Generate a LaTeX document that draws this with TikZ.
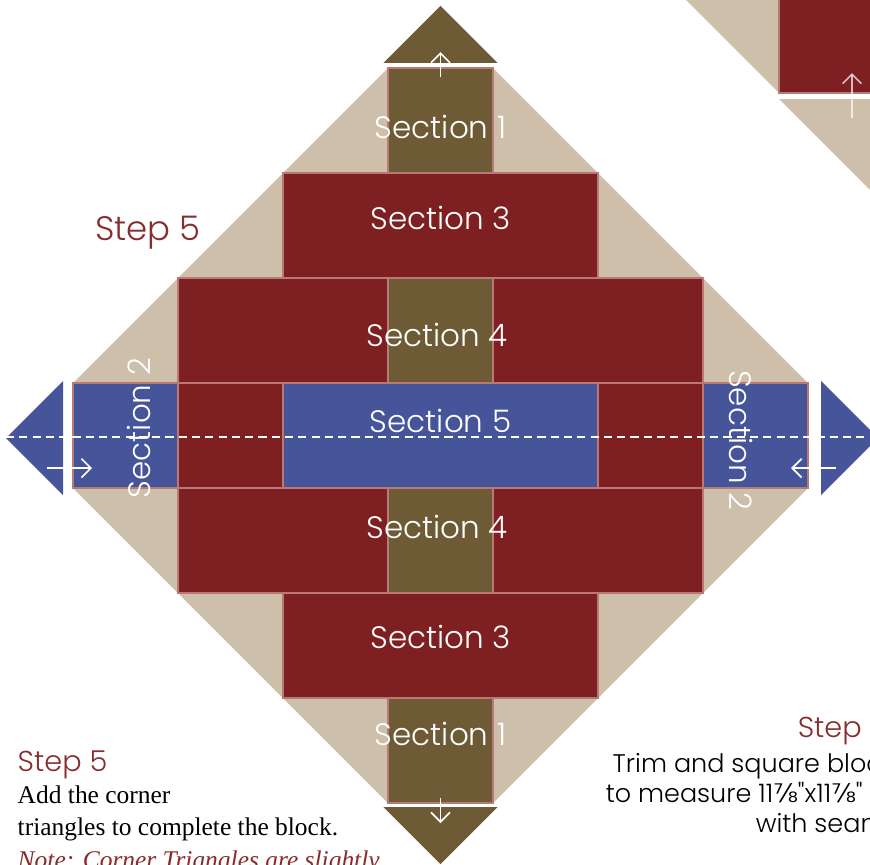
\documentclass[tikz,border=0pt]{standalone}
\usepackage{fontspec}
\usepackage{xcolor}
\usepackage{tikz}
\usetikzlibrary{arrows.meta, positioning}
\IfFontExistsTF{Poppins Light}{\newfontfamily\gothicfont{Poppins Light}}{\newfontfamily\gothicfont{Poppins}}
\newfontfamily\glyphfont{DejaVu Sans}
\newfontfamily\bookfont{Liberation Serif}
\definecolor{quiltolive}{HTML}{6E5B36}
\definecolor{quiltred}{HTML}{7E2022}
\definecolor{quiltblue}{HTML}{46549A}
\definecolor{quilttan}{HTML}{CDBFAA}
\definecolor{seamrose}{HTML}{B97A76}
\definecolor{steptitle}{HTML}{862D2D}
\definecolor{noteink}{HTML}{8A2B2B}
\tikzset{
  patch/.style={draw=seamrose, line width=0.4pt},
  seclabel/.style={white, inner sep=0pt, font=\fontsize{8.4}{8.4}\selectfont\gothicfont},
  pressarrow/.style={white, line width=0.45pt, -{Straight Barb[length=0.9mm, width=1.8mm]}},
  steplabel/.style={steptitle, inner sep=0pt, font=\fontsize{9.2}{9.2}\selectfont\gothicfont},
  bodyline/.style={black, inner sep=0pt, anchor=base west, font=\fontsize{6.9}{8.7}\selectfont\bookfont},
  trimline/.style={black, inner sep=0pt, anchor=base west, font=\fontsize{6.9}{8.1}\selectfont\gothicfont},
}

\begin{document}
\begin{tikzpicture}
  \useasboundingbox (-4.195,-4.081) rectangle (4.090,4.148);
  \clip (-4.195,-4.081) rectangle (4.090,4.148);

  % Next block peeking in at the top right
  \fill[quilttan] (2.186,4.3) -- (3.224,4.3) -- (3.224,3.262) -- cycle;
  \filldraw[quiltred, patch] (3.224,3.262) rectangle (4.3,4.3);
  \fill[quilttan] (3.224,3.205) -- (4.3,3.205) -- (4.3,2.129) -- cycle;
  \coordinate (nexttail) at (3.919,3.024);
  \coordinate (nexthead) at (3.919,3.452);
  \draw[pressarrow, opacity=0.7] (nexttail) -- (nexthead);

  % Corner triangles behind the sections
  \fill[quilttan] (-3.5,0.5) -- (-0.5,3.5) -- (0.5,3.5) -- (3.5,0.5) -- (3.5,-0.5) -- (0.5,-3.5) -- (-0.5,-3.5) -- (-3.5,-0.5) -- cycle;

  % Section 1 and 3 (top)
  \filldraw[quiltolive, patch] (-0.5,2.5) rectangle (0.5,3.5);
  \filldraw[quiltred, patch] (-1.5,1.5) rectangle (1.5,2.5);

  % Section 4 (top)
  \filldraw[quiltred, patch] (-2.5,0.5) rectangle (-0.5,1.5);
  \filldraw[quiltolive, patch] (-0.5,0.5) rectangle (0.5,1.5);
  \filldraw[quiltred, patch] (0.5,0.5) rectangle (2.5,1.5);

  % Middle row: Section 2, Section 5
  \filldraw[quiltblue, patch] (-3.5,-0.5) rectangle (-2.5,0.5);
  \filldraw[quiltred, patch] (-2.5,-0.5) rectangle (-1.5,0.5);
  \filldraw[quiltblue, patch] (-1.5,-0.5) rectangle (1.5,0.5);
  \filldraw[quiltred, patch] (1.5,-0.5) rectangle (2.5,0.5);
  \filldraw[quiltblue, patch] (2.5,-0.5) rectangle (3.5,0.5);

  % Section 4 (bottom)
  \filldraw[quiltred, patch] (-2.5,-1.5) rectangle (-0.5,-0.5);
  \filldraw[quiltolive, patch] (-0.5,-1.5) rectangle (0.5,-0.5);
  \filldraw[quiltred, patch] (0.5,-1.5) rectangle (2.5,-0.5);

  % Section 3 and 1 (bottom)
  \filldraw[quiltred, patch] (-1.5,-2.5) rectangle (1.5,-1.5);
  \filldraw[quiltolive, patch] (-0.5,-3.5) rectangle (0.5,-2.5);

  % Loose corner triangles
  \fill[quiltolive] (-0.543,3.548) -- (0.543,3.548) -- (0,4.091) -- cycle;
  \fill[quiltolive] (-0.543,-3.538) -- (0.543,-3.538) -- (0,-4.081) -- cycle;
  \fill[quiltblue] (-3.595,0.519) -- (-3.595,-0.567) -- (-4.138,-0.024) -- cycle;
  \fill[quiltblue] (3.624,0.519) -- (3.624,-0.567) -- (4.167,-0.024) -- cycle;

  % Centre fold line
  \coordinate (foldwest) at (-4.138,-0.014);
  \coordinate (foldeast) at (4.3,-0.014);
  \draw[white, line width=0.5pt, dash pattern=on 2.2pt off 1.4pt] (foldwest) -- (foldeast);

  % Pressing arrows
  \coordinate (toptail) at (0,3.414);
  \coordinate (tophead) at (0,3.652);
  \coordinate (bottail) at (0,-3.452);
  \coordinate (bothead) at (0,-3.69);
  \coordinate (lefttail) at (-3.748,-0.31);
  \coordinate (lefthead) at (-3.319,-0.31);
  \coordinate (righttail) at (3.767,-0.31);
  \coordinate (righthead) at (3.338,-0.31);
  \draw[pressarrow] (toptail) -- (tophead);
  \draw[pressarrow] (bottail) -- (bothead);
  \draw[pressarrow] (lefttail) -- (lefthead);
  \draw[pressarrow] (righttail) -- (righthead);

  % Section labels
  \node[seclabel] (sec1top) at (0,2.943) {Section 1};
  \node[seclabel] (sec3top) at (0,2.07) {Section 3};
  \node[seclabel] (sec4top) at (-0.03,0.957) {Section 4};
  \node[seclabel] (sec5) at (0,0.138) {Section 5};
  \node[seclabel] (sec4bot) at (-0.03,-0.871) {Section 4};
  \node[seclabel] (sec3bot) at (0,-1.919) {Section 3};
  \node[seclabel] (sec1bot) at (0,-2.843) {Section 1};
  \node[seclabel, rotate=90] (sec2left) at (-2.871,0.071) {Section 2};
  \node[seclabel, rotate=-90] (sec2right) at (2.862,-0.043) {Section 2};

  % Step titles
  \node[steplabel, anchor=base] (stepfive) at (-2.786,1.862) {Step 5};
  \node[steplabel, anchor=base west, font=\fontsize{7.8}{7.8}\selectfont\gothicfont] (stepfivenote) at (-4.033,-3.2) {Step 5};
  \node[steplabel, anchor=base west, font=\fontsize{7.8}{7.8}\selectfont\gothicfont] (stepsix) at (3.395,-2.871) {Step 6};

  % Step 5 text
  \node[bodyline] (addone) at (-4.033,-3.5) {Add the corner};
  \node[bodyline] (addtwo) at (-4.033,-3.805) {triangles to complete the block.};
  \node[bodyline, noteink] (addnote) at (-4.033,-4.125) {\itshape Note: Corner Triangles are slightly};

  % Step 6 text
  \node[trimline] (trimone) at (1.633,-3.205) {Trim and square block};
  \node[trimline] (trimtwo) at (1.567,-3.49) {to measure 11{\glyphfont ⅞}"x11{\glyphfont ⅞}"};
  \node[trimline] (trimthree) at (2.995,-3.776) {with seam};
\end{tikzpicture}
\end{document}
